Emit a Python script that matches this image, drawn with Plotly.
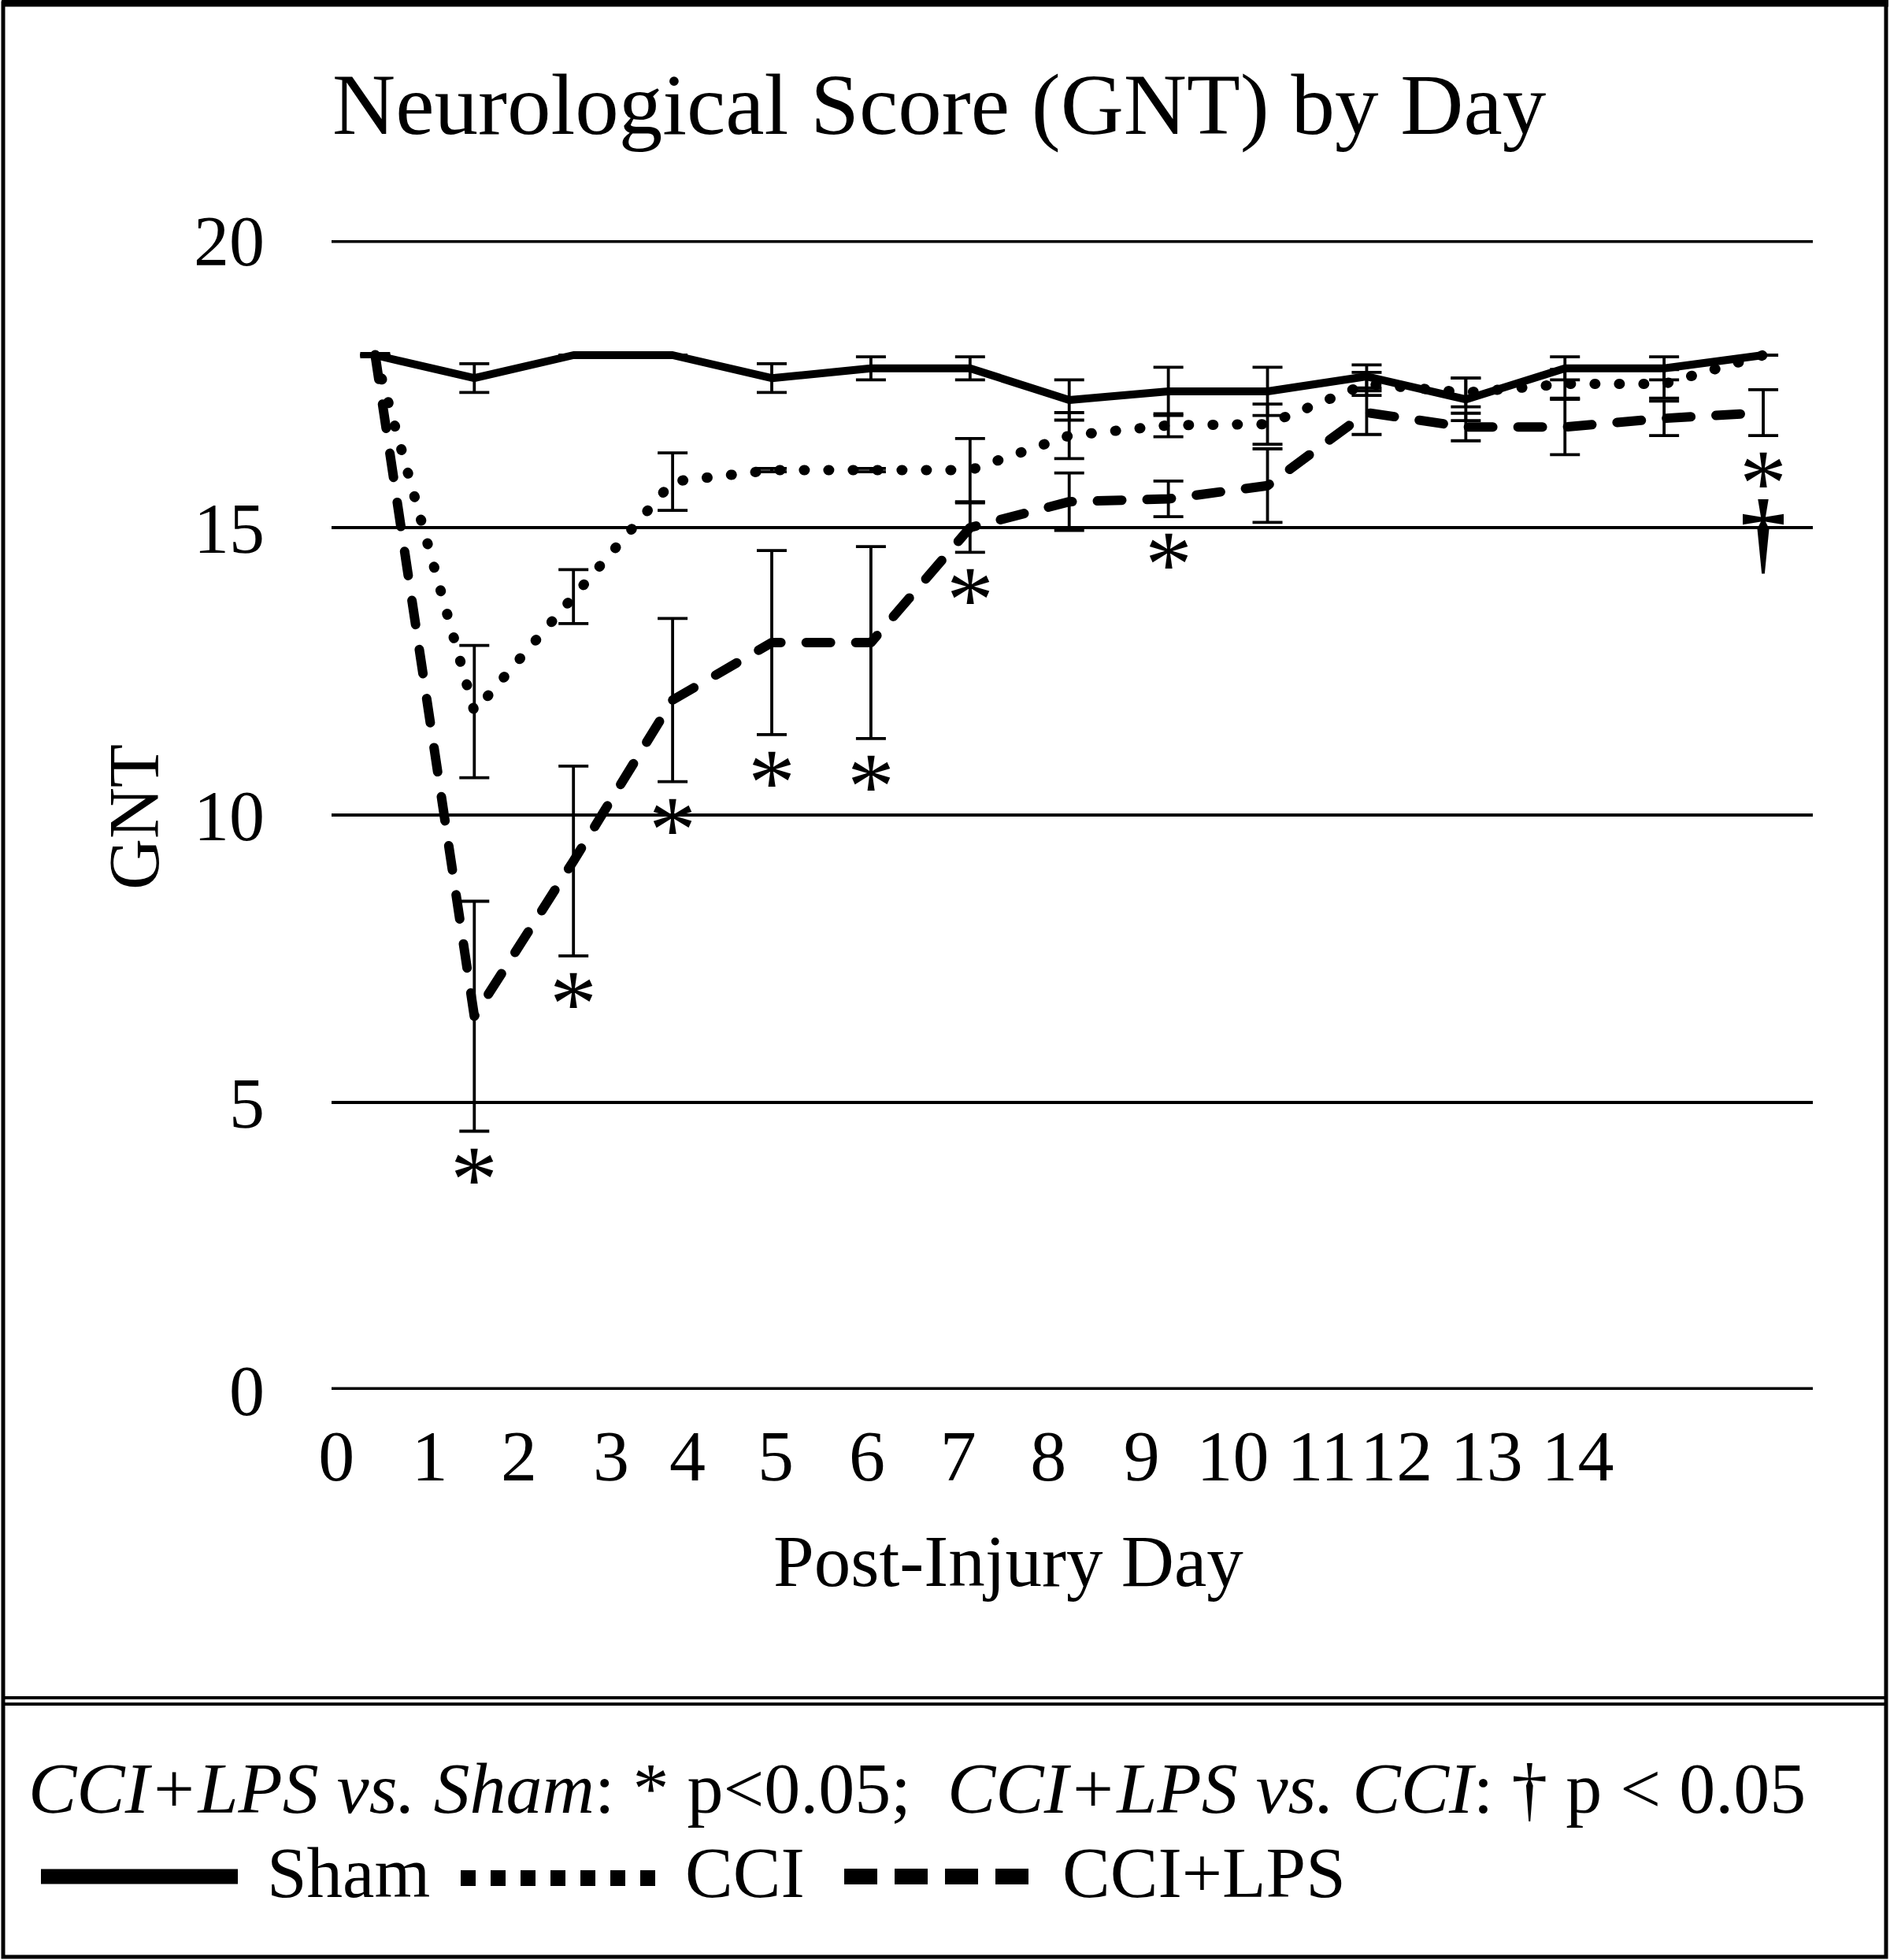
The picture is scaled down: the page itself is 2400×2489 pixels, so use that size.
import plotly.graph_objects as go

# data (GNT score by post-injury day)
days = list(range(15))
day_labels = [str(d) for d in days]

sham = [18.0, 17.6, 18.0, 18.0, 17.6, 17.77, 17.77, 17.22, 17.37, 17.37, 17.63, 17.23, 17.77, 17.77, 18.0]
sham_err = [0.03, 0.25, 0, 0, 0.25, 0.2, 0.2, 0.35, 0.42, 0.42, 0.2, 0.37, 0.2, 0.2, 0]

cci = [18.0, 11.8, 13.8, 15.8, 16.0, 16.0, 16.0, 16.6, 16.78, 16.8, 17.5, 17.35, 17.5, 17.5, 18.0]
cci_err = [0, 1.15, 0.47, 0.5, 0.03, 0.03, 0.55, 0.4, 0.2, 0.35, 0.2, 0.25, 0.25, 0.25, 0]

lps = [18.0, 6.5, 9.2, 12.0, 13.0, 13.0, 15.0, 15.45, 15.5, 15.73, 17.0, 16.75, 16.75, 16.9, 17.0]
lps_err = [0, 2.0, 1.65, 1.42, 1.6, 1.67, 0.43, 0.5, 0.31, 0.64, 0.38, 0.24, 0.48, 0.3, 0.4]

star_days = [1, 2, 3, 4, 5, 6, 8, 14]   # CCI+LPS vs Sham
dagger_days = [14]                      # CCI+LPS vs CCI

FONT = "Liberation Serif"
W, H = 2400, 2489
L, R, T, B = 421, 2302, 305, 1765


def px(fx):
    return (fx - L) / (R - L)


def py(fy):
    return (B - fy) / (B - T)


def err(vals):
    return dict(type="data", array=vals, visible=True, color="black", thickness=3.8, width=19)


fig = go.Figure()
fig.add_trace(go.Scatter(x=days, y=sham, mode="lines", name="Sham",
                         line=dict(color="black", width=10), error_y=err(sham_err)))
fig.add_trace(go.Scatter(x=days, y=cci, mode="lines", name="CCI",
                         line=dict(color="black", width=13, dash="1px,30px"), error_y=err(cci_err)))
fig.add_trace(go.Scatter(x=days, y=lps, mode="lines", name="CCI+LPS",
                         line=dict(color="black", width=12, dash="31px,32px"), error_y=err(lps_err)))

ann = []
for d in star_days:
    if d in dagger_days:
        txt = ("<span style='font-size:120px'>*</span><br>"
               "<span style='font-size:116px'><b>†</b></span>")
        size = 47
    else:
        txt, size = "*", 120
    ann.append(dict(x=d, y=lps[d] - lps_err[d], xref="x", yref="y", text=txt, showarrow=False,
                    xanchor="center", yanchor="top", yshift=8, font=dict(family=FONT, size=size)))
n_marks = len(ann)

ann += [
    dict(x=px(1193), y=py(133), text="Neurological Score (GNT) by Day", font=dict(size=111)),
    dict(x=px(1280), y=py(1982), text="Post-Injury Day", font=dict(size=93)),
    dict(x=px(170), y=py(1038), text="GNT", textangle=-90, font=dict(size=90)),
    dict(x=px(34), y=py(2271), xanchor="left",
         text="<i>CCI+LPS vs. Sham</i>: * p&lt;0.05;\u00a0 <i>CCI+LPS vs. CCI</i>: † p &lt; 0.05",
         font=dict(size=92)),
    dict(x=px(337), y=py(2378), xanchor="left", text="Sham", font=dict(size=91)),
    dict(x=px(868), y=py(2378), xanchor="left", text="CCI", font=dict(size=91)),
    dict(x=px(1347), y=py(2378), xanchor="left", text="CCI+LPS", font=dict(size=91)),
]
for a in ann[n_marks:]:
    a.update(xref="paper", yref="paper", showarrow=False)
    a.setdefault("xanchor", "center")
    a["yanchor"] = "middle"
    a["font"]["family"] = FONT
    a["font"]["color"] = "black"

shapes = [
    # heavier top / bottom gridlines
    dict(type="line", xref="paper", yref="y", x0=0, x1=1, y0=0, y1=0, layer="below",
         line=dict(color="black", width=7)),
    dict(type="line", xref="paper", yref="y", x0=0, x1=1, y0=20, y1=20, layer="below",
         line=dict(color="black", width=7)),
    # outer frame
    dict(type="rect", xref="paper", yref="paper", x0=px(4), x1=px(2395), y0=py(4), y1=py(2485),
         line=dict(color="black", width=5)),
    dict(type="line", xref="paper", yref="paper", x0=px(2), x1=px(2398), y0=py(4), y1=py(4),
         line=dict(color="black", width=9)),
    # double divider above the legend box
    dict(type="line", xref="paper", yref="paper", x0=px(4), x1=px(2395), y0=py(2156), y1=py(2156),
         line=dict(color="black", width=4)),
    dict(type="line", xref="paper", yref="paper", x0=px(4), x1=px(2395), y0=py(2164), y1=py(2164),
         line=dict(color="black", width=4)),
    # legend samples
    dict(type="line", xref="paper", yref="paper", x0=px(52), x1=px(302), y0=py(2383), y1=py(2383),
         line=dict(color="black", width=19)),
    dict(type="line", xref="paper", yref="paper", x0=px(585), x1=px(832), y0=py(2385), y1=py(2385),
         line=dict(color="black", width=20, dash="19px,19px")),
    dict(type="line", xref="paper", yref="paper", x0=px(1072), x1=px(1319), y0=py(2383), y1=py(2383),
         line=dict(color="black", width=20, dash="42px,22px")),
]

fig.update_layout(
    width=W, height=H,
    margin=dict(l=L, r=W - R, t=T, b=H - B),
    paper_bgcolor="white", plot_bgcolor="white",
    showlegend=False,
    font=dict(family=FONT, color="black"),
    annotations=ann,
    shapes=shapes,
)
fig.update_xaxes(range=[-0.44, 14.5], showgrid=False, zeroline=False, showline=False, ticks="",
                 tickmode="array",
                 tickvals=[-0.39, 0.55, 1.45, 2.38, 3.15, 4.04, 4.96, 5.88, 6.79, 7.73, 8.65, 9.55, 10.3, 11.21, 12.13],
                 ticktext=day_labels, tickangle=0, ticklabelstandoff=22,
                 tickfont=dict(family=FONT, size=92, color="black"))
fig.update_yaxes(range=[0, 20], tickvals=[0, 5, 10, 15, 20], showgrid=True, gridcolor="black", gridwidth=4,
                 zeroline=False, showline=False, ticks="", ticklabelstandoff=84,
                 tickfont=dict(family=FONT, size=90, color="black"))

# page margin off, and rounded ends for the dotted / dashed series lines
js = ("document.body.style.margin='0';"
      "document.querySelectorAll('.scatterlayer .js-line').forEach(function(p){"
      "p.style.strokeLinecap='round';p.style.strokeLinejoin='round';});")
fig.write_html("out.html", post_script=js, config={"displayModeBar": False})
